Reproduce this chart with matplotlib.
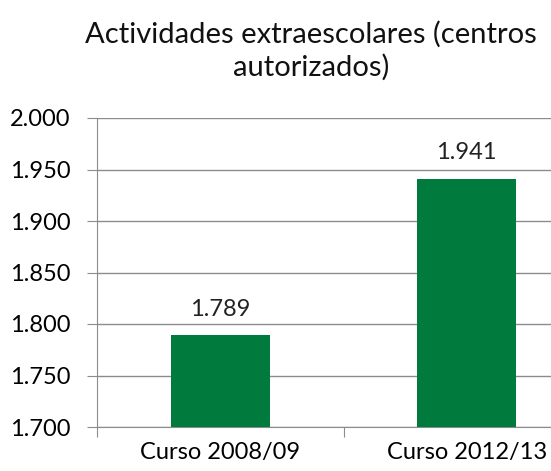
import matplotlib.pyplot as plt
from matplotlib.ticker import FuncFormatter

categories = ['Curso 2008/09', 'Curso 2012/13']
values = [1789, 1941]
title = 'Actividades extraescolares (centros\nautorizados)'

plt.rcParams['font.family'] = ['Lato', 'DejaVu Sans']

fig = plt.figure(figsize=(5.51, 4.71), dpi=100)
# the chart area runs past the right edge of the picture, as in the original
ax = fig.add_axes([97 / 551, 1 - 427 / 471, 493 / 551, 309 / 471])

ax.bar(range(len(values)), values, width=0.4, color='#007A3D', zorder=3)
for i, v in enumerate(values):
    ax.annotate(f'{v:,}'.replace(',', '.'), (i, v), xytext=(0, 11),
                textcoords='offset points', ha='center', va='bottom',
                fontsize=17, color='#222222')

ax.set_ylim(1700, 2000)
ax.set_xlim(-0.5, 1.5)
ax.set_yticks(range(1700, 2001, 50))
ax.yaxis.set_major_formatter(FuncFormatter(lambda v, p: f'{int(v):,}'.replace(',', '.')))
ax.yaxis.grid(True, color='#8c8c8c', linewidth=1, zorder=0)

ax.set_xticks([-0.5, 0.5, 1.5])
ax.set_xticklabels([])
ax.set_xticks([0, 1], minor=True)
ax.set_xticklabels(categories, minor=True, fontsize=17)
ax.tick_params(axis='x', which='minor', length=0, pad=11)
ax.tick_params(axis='x', which='major', length=7, color='#8c8c8c', direction='out')
ax.tick_params(axis='y', length=7, color='#8c8c8c', labelsize=17, pad=12)

for s in ['top', 'right']:
    ax.spines[s].set_visible(False)
for s in ['left', 'bottom']:
    ax.spines[s].set_color('#8c8c8c')

fig.text(311 / 551, 1 - 51 / 471, title, ha='center', va='center',
         fontsize=21, linespacing=1.3, color='#111111')

fig.savefig('out.png', dpi=100)
